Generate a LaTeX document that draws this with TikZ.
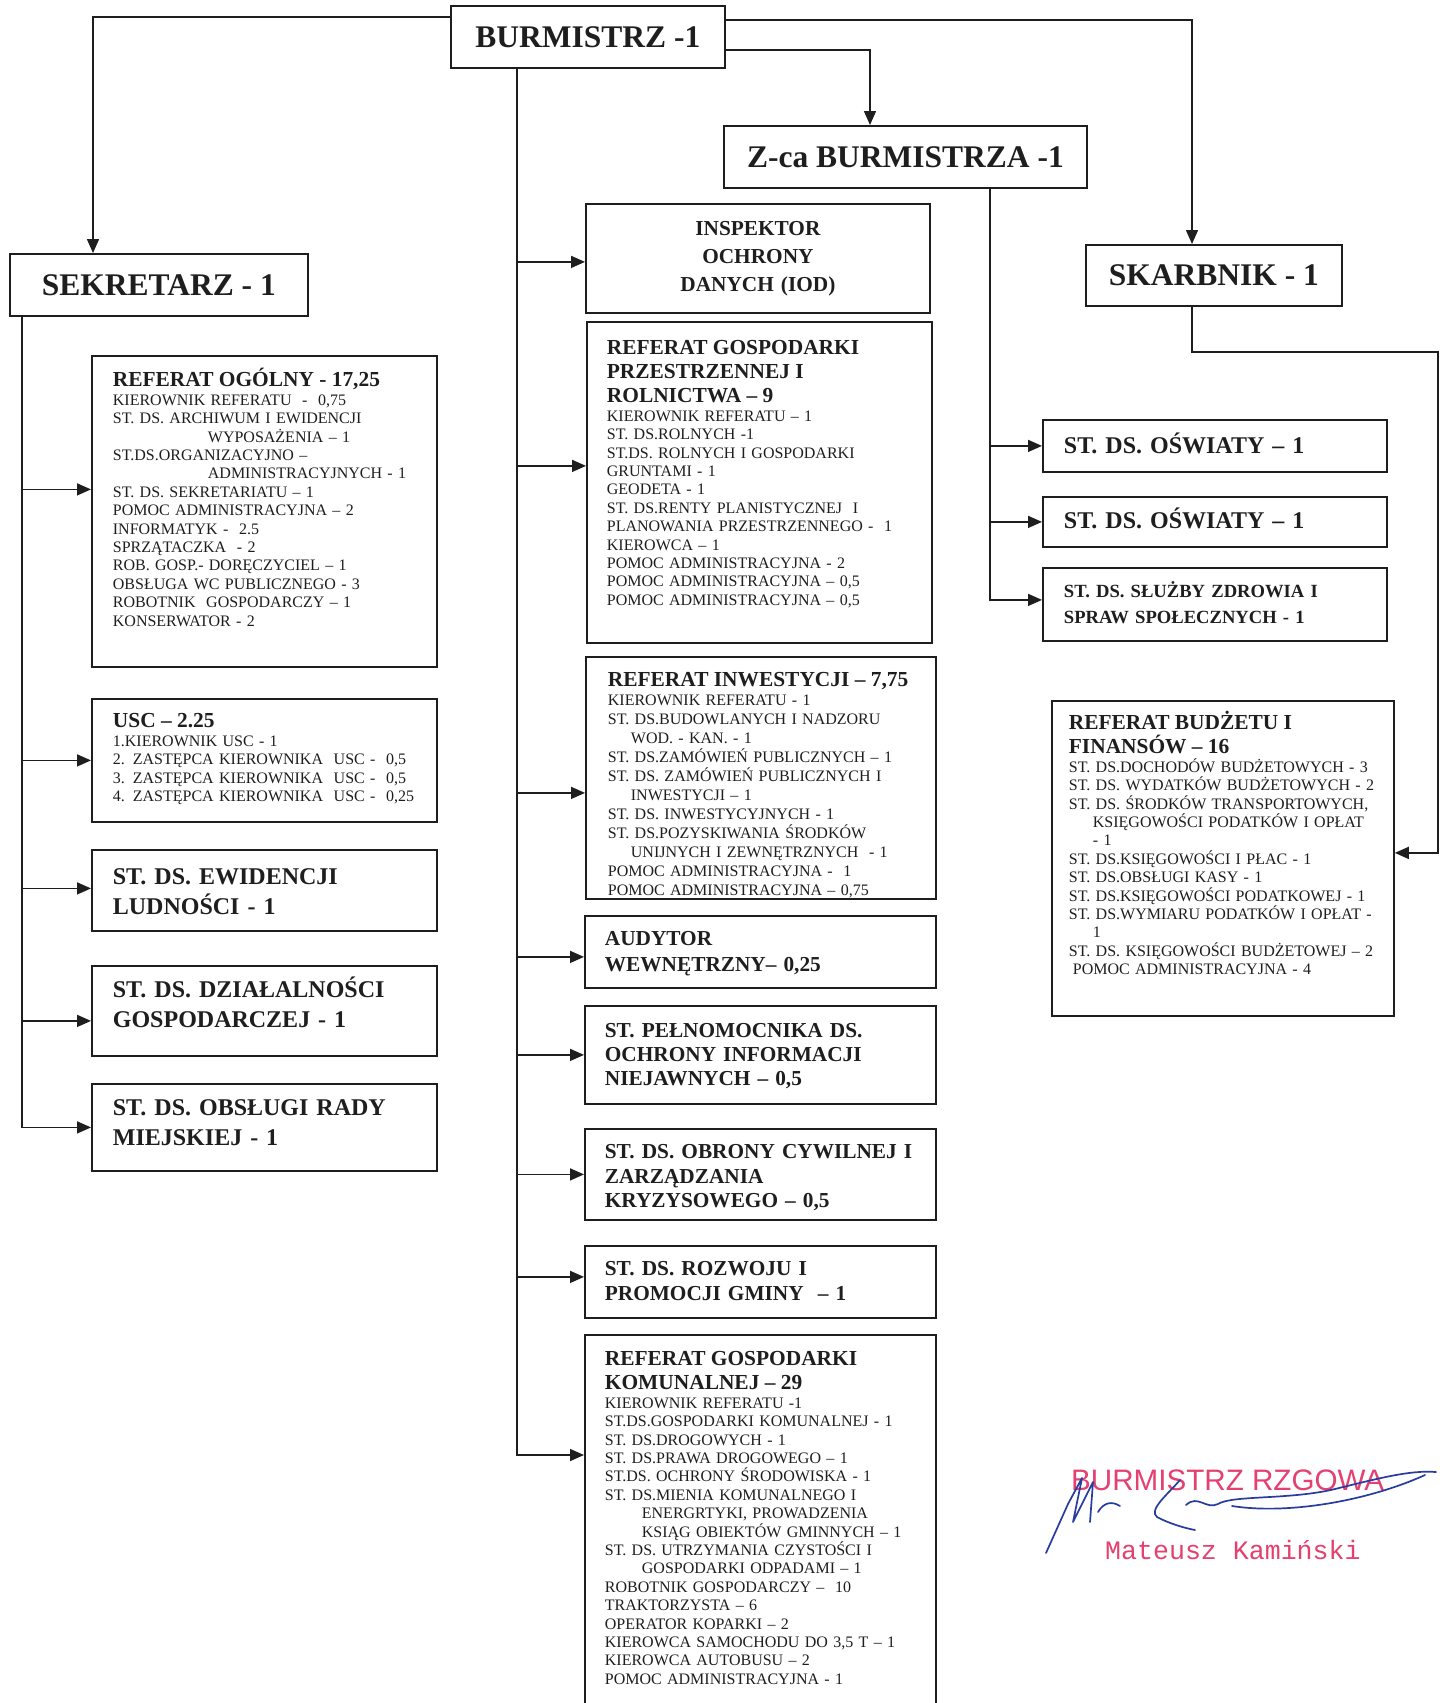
\documentclass[tikz,border=0pt]{standalone}
\usepackage{fontspec}
\setmainfont{Liberation Serif}
\newfontfamily\stampsans{Liberation Sans}
\newfontfamily\stampmono{Liberation Mono}
\usetikzlibrary{positioning, arrows.meta}

\definecolor{ink}{RGB}{30,30,30}
\definecolor{stampred}{RGB}{228,64,112}
\definecolor{penblue}{RGB}{40,60,160}

\newcommand{\hdfont}{\fontsize{21.4}{24}\selectfont\bfseries}
\newcommand{\reffont}{\fontsize{16}{18.4}\selectfont}
\newcommand{\indline}[1][24pt]{\hspace*{#1}}

\begin{document}
\begin{tikzpicture}[
    x=1pt, y=-1pt,
    % Styles
    chief/.style={draw=ink, line width=1.8pt, anchor=north west, inner sep=0pt, text=ink, font=\fontsize{31.5}{36}\selectfont\bfseries},
    unit/.style={draw=ink, line width=1.8pt, anchor=north west, inner ysep=0pt, align=left, text=ink, font=\reffont},
    leftunit/.style={unit, inner xsep=21pt, text width=303pt},
    midunit/.style={unit, inner xsep=20pt, text width=311pt},
    rightunit/.style={unit, inner xsep=21pt, text width=302pt},
    post/.style={font=\fontsize{24}{30}\selectfont\bfseries},
    midpost/.style={font=\fontsize{21.3}{#1}\selectfont\bfseries},
    link/.style={draw=ink, line width=1.5pt},
    arrow/.style={link, -{Triangle[length=14pt, width=12pt]}},
    stamp/.style={anchor=base west, inner sep=0pt, text=stampred},
    signature/.style={draw=penblue, line width=1.7pt, line cap=round, line join=round},
]

\useasboundingbox (0,0) rectangle (1440,1703);
\fill[white] (0,0) rectangle (1440,1703);

% Heads
\node[chief, minimum width=274pt, minimum height=62pt] (burm) at (450,5) {BURMISTRZ -1};
\node[chief, minimum width=363pt, minimum height=62pt] (zca) at (723,125) {Z-ca BURMISTRZA -1};
\node[chief, minimum width=298pt, minimum height=62pt] (sekr) at (9,253) {SEKRETARZ - 1};
\node[chief, minimum width=256pt, minimum height=61pt] (skarb) at (1085,244) {SKARBNIK - 1};

\draw[arrow] ([yshift=-12pt]burm.north west) -| ([xshift=84pt]sekr.north west);
\draw[arrow] ([yshift=-15pt]burm.north east) -| ([xshift=107pt]skarb.north west);
\draw[arrow] ([yshift=-45pt]burm.north east) -| ([xshift=147pt]zca.north west);

% Sekretarz column (left)
\node[leftunit, text height=31pt, text depth=280pt] (ogolny) at (91,355) {{\hdfont REFERAT OGÓLNY - 17,25\par}
KIEROWNIK REFERATU ~-~ 0,75\\
ST. DS. ARCHIWUM I EWIDENCJI\\
\indline[95pt]WYPOSAŻENIA – 1\\
ST.DS.ORGANIZACYJNO –\\
\indline[95pt]ADMINISTRACYJNYCH - 1\\
ST. DS. SEKRETARIATU – 1\\
POMOC ADMINISTRACYJNA – 2\\
INFORMATYK - ~2.5\\
SPRZĄTACZKA ~- 2\\
ROB. GOSP.- DORĘCZYCIEL – 1\\
OBSŁUGA WC PUBLICZNEGO - 3\\
ROBOTNIK ~GOSPODARCZY – 1\\
KONSERWATOR - 2};

\node[leftunit, text height=29pt, text depth=94pt] (usc) at (91,698) {{\hdfont USC – 2.25\par}
1.KIEROWNIK USC - 1\\
2. ZASTĘPCA KIEROWNIKA ~USC - ~0,5\\
3. ZASTĘPCA KIEROWNIKA ~USC - ~0,5\\
4. ZASTĘPCA KIEROWNIKA ~USC - ~0,25};

\node[leftunit, post, text height=35pt, text depth=46pt] (ewid) at (91,849) {ST. DS. EWIDENCJI\\ LUDNOŚCI - 1};
\node[leftunit, post, text height=32pt, text depth=58pt] (dzial) at (91,965) {ST. DS. DZIAŁALNOŚCI\\ GOSPODARCZEJ - 1};
\node[leftunit, post, text height=32pt, text depth=55pt] (rady) at (91,1083) {ST. DS. OBSŁUGI RADY\\ MIEJSKIEJ - 1};

\coordinate (strunk) at ([xshift=13pt]sekr.south west);
\draw[arrow] (strunk) |- (rady.west);
\draw[arrow] ([yshift=22pt]strunk |- ogolny.west) -- ([yshift=22pt]ogolny.west);
\draw[arrow] (strunk |- usc.west) -- (usc.west);
\draw[arrow] ([yshift=2pt]strunk |- ewid.west) -- ([yshift=2pt]ewid.west);
\draw[arrow] ([yshift=-10pt]strunk |- dzial.west) -- ([yshift=-10pt]dzial.west);

% Burmistrz column (middle)
\node[midunit, align=center, midpost=28, text width=304pt, text height=32pt, text depth=77pt] (insp) at (585,203) {INSPEKTOR\\ OCHRONY\\ DANYCH (IOD)};

\node[midunit, text width=305pt, text height=33pt, text depth=288pt] (przes) at (586,321) {{\hdfont REFERAT GOSPODARKI\\ PRZESTRZENNEJ I\\ ROLNICTWA – 9\par}
KIEROWNIK REFERATU – 1\\
ST. DS.ROLNYCH -1\\
ST.DS. ROLNYCH I GOSPODARKI\\
GRUNTAMI - 1\\
GEODETA - 1\\
ST. DS.RENTY PLANISTYCZNEJ ~I\\
PLANOWANIA PRZESTRZENNEGO - ~1\\
KIEROWCA – 1\\
POMOC ADMINISTRACYJNA - 2\\
POMOC ADMINISTRACYJNA – 0,5\\
POMOC ADMINISTRACYJNA – 0,5};

\node[midunit, inner xsep=22pt, text width=306pt, font=\fontsize{16}{19}\selectfont, text height=30pt, text depth=212pt] (inwest) at (585,656) {{\hdfont REFERAT INWESTYCJI – 7,75\par}
KIEROWNIK REFERATU - 1\\
ST. DS.BUDOWLANYCH I NADZORU\\
\indline[23pt]WOD. - KAN. - 1\\
ST. DS.ZAMÓWIEŃ PUBLICZNYCH – 1\\
ST. DS. ZAMÓWIEŃ PUBLICZNYCH I\\
\indline[23pt]INWESTYCJI – 1\\
ST. DS. INWESTYCYJNYCH - 1\\
ST. DS.POZYSKIWANIA ŚRODKÓW\\
\indline[23pt]UNIJNYCH I ZEWNĘTRZNYCH ~- 1\\
POMOC ADMINISTRACYJNA - ~1\\
POMOC ADMINISTRACYJNA – 0,75};

\node[midunit, midpost=26.5, text height=29.5pt, text depth=42.5pt] (audyt) at (584,915) {AUDYTOR\\ WEWNĘTRZNY– 0,25};
\node[midunit, midpost=24, text height=32pt, text depth=66pt] (pelnom) at (584,1005) {ST. PEŁNOMOCNIKA DS.\\ OCHRONY INFORMACJI\\ NIEJAWNYCH – 0,5};
\node[midunit, midpost=24.5, text height=30pt, text depth=61pt] (obrony) at (584,1128) {ST. DS. OBRONY CYWILNEJ I\\ ZARZĄDZANIA\\ KRYZYSOWEGO – 0,5};
\node[midunit, midpost=25, text height=30pt, text depth=42pt] (rozwoj) at (584,1245) {ST. DS. ROZWOJU I\\ PROMOCJI GMINY ~– 1};

\node[midunit, text height=31pt, text depth=400pt] (komun) at (584,1334) {{\hdfont REFERAT GOSPODARKI\\ KOMUNALNEJ – 29\par}
KIEROWNIK REFERATU -1\\
ST.DS.GOSPODARKI KOMUNALNEJ - 1\\
ST. DS.DROGOWYCH - 1\\
ST. DS.PRAWA DROGOWEGO – 1\\
ST.DS. OCHRONY ŚRODOWISKA - 1\\
ST. DS.MIENIA KOMUNALNEGO I\\
\indline[37pt]ENERGRTYKI, PROWADZENIA\\
\indline[37pt]KSIĄG OBIEKTÓW GMINNYCH – 1\\
ST. DS. UTRZYMANIA CZYSTOŚCI I\\
\indline[37pt]GOSPODARKI ODPADAMI – 1\\
ROBOTNIK GOSPODARCZY – ~10\\
TRAKTORZYSTA – 6\\
OPERATOR KOPARKI – 2\\
KIEROWCA SAMOCHODU DO 3,5 T – 1\\
KIEROWCA AUTOBUSU – 2\\
POMOC ADMINISTRACYJNA - 1};

\coordinate (trunk) at ([xshift=67pt]burm.south west);
\draw[arrow] (trunk) |- ([yshift=-121pt]komun.north west);
\draw[arrow] ([yshift=-3.5pt]trunk |- insp.west) -- ([yshift=-3.5pt]insp.west);
\draw[arrow] ([yshift=16.5pt]trunk |- przes.west) -- ([yshift=16.5pt]przes.west);
\draw[arrow] ([yshift=-15pt]trunk |- inwest.west) -- ([yshift=-15pt]inwest.west);
\draw[arrow] ([yshift=-5pt]trunk |- audyt.west) -- ([yshift=-5pt]audyt.west);
\draw[arrow] (trunk |- pelnom.west) -- (pelnom.west);
\draw[arrow] (trunk |- obrony.west) -- (obrony.west);
\draw[arrow] ([yshift=5pt]trunk |- rozwoj.west) -- ([yshift=5pt]rozwoj.west);

% Z-ca column (right)
\node[rightunit, post, text height=34pt, text depth=18pt] (osw1) at (1042,419) {ST. DS. OŚWIATY – 1};
\node[rightunit, post, text height=32pt, text depth=18pt] (osw2) at (1042,496) {ST. DS. OŚWIATY – 1};
\node[rightunit, font=\fontsize{18.6}{26}\selectfont\bfseries, text height=30pt, text depth=43pt] (zdrow) at (1042,567) {ST. DS. SŁUŻBY ZDROWIA I\\ SPRAW SPOŁECZNYCH - 1};

\coordinate (ztrunk) at ([xshift=267pt]zca.south west);
\draw[arrow] (ztrunk) |- ([yshift=4.5pt]zdrow.west);
\draw[arrow] (ztrunk |- osw1.west) -- (osw1.west);
\draw[arrow] (ztrunk |- osw2.west) -- (osw2.west);

% Skarbnik
\node[unit, inner xsep=17pt, text width=308pt, text height=29pt, text depth=286pt] (budz) at (1051,700) {{\hdfont REFERAT BUDŻETU I\\ FINANSÓW – 16\par}
ST. DS.DOCHODÓW BUDŻETOWYCH - 3\\
ST. DS. WYDATKÓW BUDŻETOWYCH - 2\\
ST. DS. ŚRODKÓW TRANSPORTOWYCH,\\
\indline KSIĘGOWOŚCI PODATKÓW I OPŁAT\\
\indline - 1\\
ST. DS.KSIĘGOWOŚCI I PŁAC - 1\\
ST. DS.OBSŁUGI KASY - 1\\
ST. DS.KSIĘGOWOŚCI PODATKOWEJ - 1\\
ST. DS.WYMIARU PODATKÓW I OPŁAT -\\
\indline 1\\
ST. DS. KSIĘGOWOŚCI BUDŻETOWEJ – 2\\
\indline[4pt]POMOC ADMINISTRACYJNA - 4};

\draw[arrow] ([xshift=107pt]skarb.south west) -- ++(0,45) -| ([xshift=43pt,yshift=5.5pt]budz.east) -- ([yshift=5.5pt]budz.east);

% Stamp and signature
\node[stamp, font=\stampsans\fontsize{29.6}{32}\selectfont] (stamptitle) at (1071,1490) {BURMISTRZ RZGOWA};
\node[stamp, font=\stampmono\fontsize{26.6}{30}\selectfont] (stampname) at (1105,1559) {Mateusz Kamiński};

\draw[signature] (1046,1553) -- (1068,1504) -- (1082,1478) -- (1073,1522) -- (1093,1482) -- (1090,1522);
\draw[signature] (1098,1512) .. controls (1104,1502) and (1112,1501) .. (1120,1506);
\draw[signature] (1180,1480) .. controls (1168,1494) and (1148,1510) .. (1157,1517) .. controls (1168,1523) and (1184,1528) .. (1195,1530);
\draw[signature] (1186,1505) .. controls (1198,1494) and (1206,1510) .. (1218,1504) .. controls (1232,1495) and (1290,1500) .. (1335,1489) .. controls (1380,1478) and (1410,1470) .. (1436,1472);
\draw[signature] (1232,1506) .. controls (1290,1515) and (1370,1500) .. (1425,1475);

\end{tikzpicture}
\end{document}
